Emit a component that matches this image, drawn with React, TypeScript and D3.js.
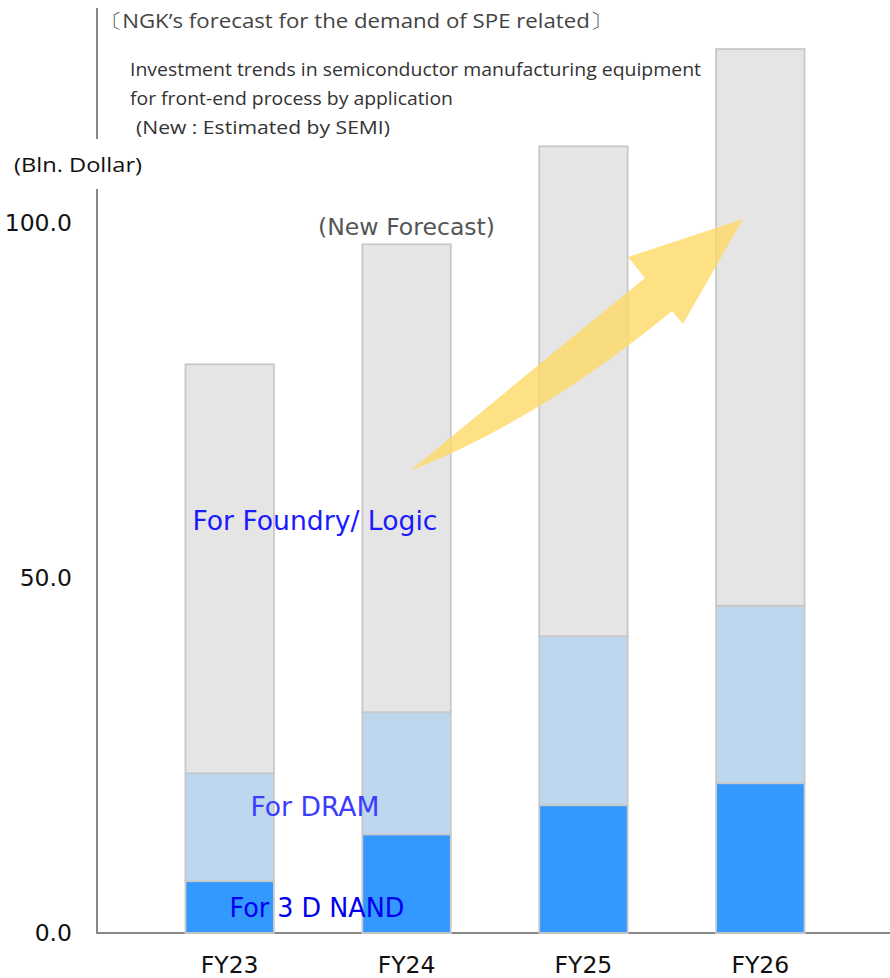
import React from 'react';
import * as d3 from 'd3';

const categories = ['FY23', 'FY24', 'FY25', 'FY26'];
const nand = [7.3, 13.9, 18.0, 21.1];
const dram = [15.2, 17.2, 23.8, 25.0];
const foundry = [57.6, 65.9, 69.0, 78.4];
const yTicks = [0, 50, 100];
const seriesKeys = ['nand', 'dram', 'foundry'];
const seriesLabels = ['For 3 D NAND', 'For DRAM', 'For Foundry/ Logic'];

const W = 890;
const H = 978;

export default function App() {
  const rows = categories.map((c, i) => ({ cat: c, nand: nand[i], dram: dram[i], foundry: foundry[i] }));
  const stack = d3.stack<any>().keys(seriesKeys)(rows);

  const x = d3.scaleBand<string>().domain(categories).range([97, 893]).paddingInner(0.5).paddingOuter(0.5);
  const y = d3.scaleLinear().domain([0, 100]).range([933, 223]);

  const fills = ['#3399FF', '#BDD7EE', '#E5E5E5'];
  const center = (f: number) => (x(categories[0]) as number) + x.bandwidth() / 2 + f * x.step();
  const P = (f: number, v: number) => `${center(f)},${y(v)}`;

  // arrow annotation in (category-index, value) space
  const arrowPath =
    `M${P(1.019, 65.07)} Q${P(1.712, 79.37)} ${P(2.348, 92.25)} L${P(2.252, 95.21)} L${P(2.902, 100.56)} ` +
    `L${P(2.563, 85.77)} L${P(2.501, 87.61)} Q${P(1.76, 72.39)} ${P(1.019, 65.07)} Z`;

  const f0 = x('FY23') as number;
  const font = "'DejaVu Sans', Verdana, sans-serif";

  return (
    <svg width={W} height={H} style={{ position: 'absolute', left: 0, top: 0, background: '#fff' }}>
      {/* axes */}
      <line x1={97} x2={97} y1={8} y2={139} stroke="#888" strokeWidth={2} />
      <line x1={97} x2={97} y1={189} y2={933} stroke="#888" strokeWidth={2} />
      <line x1={96} x2={890} y1={933} y2={933} stroke="#888" strokeWidth={2} />

      {/* bars */}
      {stack.map((s, si) => (
        <g key={si}>
          {s.map((d: any, i: number) => (
            <rect
              key={i}
              x={x(categories[i]) as number}
              y={y(d[1])}
              width={x.bandwidth()}
              height={y(d[0]) - y(d[1])}
              fill={fills[si]}
              stroke="#C8C8C8"
              strokeWidth={1.8}
            />
          ))}
        </g>
      ))}

      {/* arrow */}
      <path d={arrowPath} fill="#FFD966" fillOpacity={0.8} />

      {/* y tick labels */}
      {yTicks.map((t) => (
        <text key={t} x={72} y={y(t)} dy="0.36em" textAnchor="end" fontFamily={font} fontSize={23.5} fill="#111">
          {t.toFixed(1)}
        </text>
      ))}

      {/* x labels */}
      {categories.map((c) => (
        <text key={c} x={(x(c) as number) + x.bandwidth() / 2} y={973} textAnchor="middle" fontFamily={font} fontSize={23.5} fill="#111">
          {c}
        </text>
      ))}

      {/* series labels */}
      <text x={f0 + 7} y={530} fontFamily={font} fontSize={26} fill="#1a1aff" textLength={245} lengthAdjust="spacingAndGlyphs">{seriesLabels[2]}</text>
      <text x={f0 + 65} y={816} fontFamily={font} fontSize={26} fill="#3c3cff" textLength={129} lengthAdjust="spacingAndGlyphs">{seriesLabels[1]}</text>
      <text x={f0 + 44} y={917} fontFamily={font} fontSize={26} fill="#0000ee" textLength={175} lengthAdjust="spacingAndGlyphs">{seriesLabels[0]}</text>

      <text x={(x('FY24') as number) + x.bandwidth() / 2} y={227} dy="0.36em" textAnchor="middle" fontFamily={font} fontSize={23.5} fill="#555" textLength={177} lengthAdjust="spacingAndGlyphs">(New Forecast)</text>

      {/* titles */}
      <text x={100} y={28} fontFamily="'Open Sans', sans-serif" fontSize={20} fill="#444" textLength={512} lengthAdjust="spacingAndGlyphs">〔NGK’s forecast for the demand of SPE related〕</text>
      <text x={130} y={76} fontFamily="'Open Sans', sans-serif" fontSize={17.5} fill="#333" textLength={571} lengthAdjust="spacingAndGlyphs">Investment trends in semiconductor manufacturing equipment</text>
      <text x={130} y={105} fontFamily="'Open Sans', sans-serif" fontSize={17.5} fill="#333" textLength={323} lengthAdjust="spacingAndGlyphs">for front-end process by application</text>
      <text x={136} y={134} fontFamily="'Open Sans', sans-serif" fontSize={17.5} fill="#333" textLength={254} lengthAdjust="spacingAndGlyphs">(New : Estimated by SEMI)</text>
      <text x={14} y={172} fontFamily="'Open Sans', sans-serif" fontSize={19.5} fill="#111" textLength={128} lengthAdjust="spacingAndGlyphs">(Bln. Dollar)</text>
    </svg>
  );
}
